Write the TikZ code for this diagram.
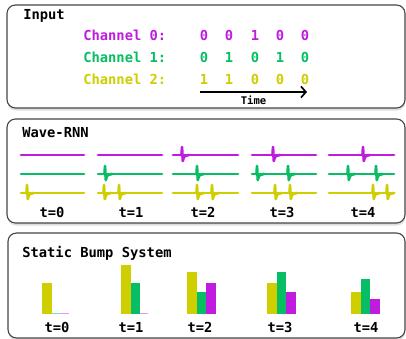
\documentclass[tikz,border=0pt]{standalone}
\usepackage{fontspec}
\setmonofont{DejaVu Sans Mono}
\usetikzlibrary{shadows,arrows.meta}

\definecolor{chpurple}{RGB}{192,28,224}
\definecolor{chgreen}{RGB}{8,190,100}
\definecolor{chyellow}{RGB}{206,206,0}
\definecolor{boxline}{RGB}{70,70,70}

\tikzset{
  panel/.style={draw=boxline, line width=0.8pt, rounded corners=6pt, fill=white,
    drop shadow={shadow xshift=0.3pt, shadow yshift=-1.8pt, opacity=0.25}},
  title/.style={anchor=west, inner sep=0pt, font=\ttfamily\bfseries\fontsize{9.8}{11}\selectfont},
  lbl/.style={inner sep=0pt, font=\ttfamily\bfseries\fontsize{9.8}{11}\selectfont},
  wave/.style={line width=1.9pt, line cap=round, line join=round},
}

% one spike on a wave: x, y, colour
\newcommand{\spk}[3]{%
  \draw[wave,#3] (#1-0.5,#2) -- (#1,#2-8) -- (#1+0.8,#2+6) .. controls (#1+2,#2+1) .. (#1+7,#2);}

\begin{document}
\begin{tikzpicture}[x=0.025cm,y=-0.025cm]
  \useasboundingbox (0,0) rectangle (406,339);

  % Input
  \draw[panel] (7,5) rectangle (405,108);
  \node[title] (intitle) at (23,16) {Input};
  \node[title,text=chpurple] (ch0) at (83,35) {Channel 0:};
  \node[title,text=chgreen] (ch1) at (83,57) {Channel 1:};
  \node[title,text=chyellow] (ch2) at (83,79) {Channel 2:};
  \foreach \x/\i/\a/\b/\c in {204/0/0/0/1, 229/1/0/1/1, 255/2/1/0/0, 280/3/0/1/0, 305/4/0/0/0} {
    \node[lbl,text=chpurple] (p\i) at (\x,35) {\a};
    \node[lbl,text=chgreen] (g\i) at (\x,57) {\b};
    \node[lbl,text=chyellow] (y\i) at (\x,79) {\c};
  }
  \coordinate (tstart) at (200,92);
  \coordinate (tend) at (307,92);
  \draw[-{Straight Barb[length=3.5pt,width=8pt]}, line width=1.2pt] (tstart) -- (tend)
    node[midway, below=2.5pt, inner sep=0pt, font=\ttfamily\bfseries\fontsize{7.5}{9}\selectfont] (time) {Time};

  % Wave-RNN
  \draw[panel] (7,119) rectangle (405,223);
  \node[title] (wavetitle) at (22,133) {Wave-RNN};
  \foreach \a/\b in {21/84, 98/162, 173/238, 252/316, 329/394} {
    \draw[wave,chpurple] (\a,155) -- (\b,155);
    \draw[wave,chgreen] (\a,174) -- (\b,174);
    \draw[wave,chyellow] (\a,193) -- (\b,193);
  }
  \foreach \s in {182,273,363} {\spk{\s}{155}{chpurple}}
  \foreach \s in {105,197,257,288,348,376} {\spk{\s}{174}{chgreen}}
  \foreach \s in {27,104,119,197,212,275,290,373,387} {\spk{\s}{193}{chyellow}}
  \foreach \x/\i in {52/0, 131/1, 203/2, 282/3, 363/4}
    \node[lbl] (wt\i) at (\x,212) {t=\i};

  % Static Bump System
  \draw[panel] (8,233) rectangle (405,338);
  \node[title] (bumptitle) at (22,253) {Static Bump System};
  \foreach \x/\i/\hy/\hg/\hp in {42/0/31/0/0, 121/1/49/31/0, 187/2/42/22/31, 267/3/31/42/22, 351/4/22/35/15} {
    \fill[chyellow] (\x,314) rectangle ++(9.5,-\hy);
    \ifnum\hg>0 \fill[chgreen] (\x+9.5,314) rectangle ++(9.5,-\hg);
    \else \fill[chgreen!50] (\x+9.5,314) rectangle ++(9.5,-1.5); \fi
    \ifnum\hp>0 \fill[chpurple] (\x+19,314) rectangle ++(9.5,-\hp);
    \else \fill[chpurple!45] (\x+19,314) rectangle ++(8,-1.5); \fi
  }
  \foreach \x/\i in {57/0, 131/1, 200/2, 280/3, 366/4}
    \node[lbl] (bt\i) at (\x,327) {t=\i};
\end{tikzpicture}
\end{document}
